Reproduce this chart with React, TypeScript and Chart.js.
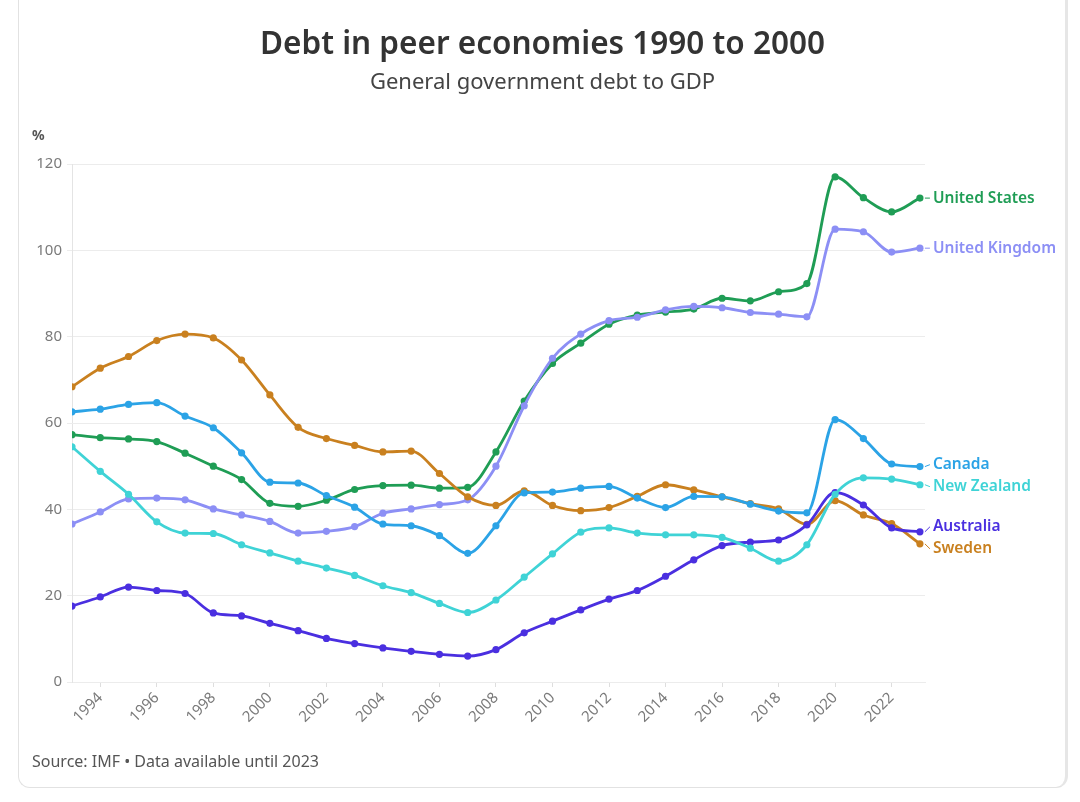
import React, { useEffect, useRef } from "react";
import { Chart, registerables } from "chart.js";

Chart.register(...registerables);

const years = [
  1993, 1994, 1995, 1996, 1997, 1998, 1999, 2000, 2001, 2002, 2003,
  2004, 2005, 2006, 2007, 2008, 2009, 2010, 2011, 2012, 2013, 2014,
  2015, 2016, 2017, 2018, 2019, 2020, 2021, 2022, 2023,
];

const xTickYears = [
  1994, 1996, 1998, 2000, 2002, 2004, 2006, 2008, 2010, 2012, 2014,
  2016, 2018, 2020, 2022,
];

const unitedStates = [
  57.3, 56.6, 56.3, 55.7, 53.0, 50.0, 46.9, 41.4, 40.7, 42.1, 44.6,
  45.5, 45.6, 44.9, 45.1, 53.3, 65.1, 73.8, 78.5, 82.9, 85.0, 85.7,
  86.4, 88.9, 88.3, 90.4, 92.3, 117.0, 112.2, 108.9, 112.1,
];

const unitedKingdom = [
  36.6, 39.4, 42.4, 42.6, 42.2, 40.1, 38.7, 37.2, 34.5, 34.9, 36.0,
  39.1, 40.1, 41.1, 42.2, 50.0, 64.0, 75.0, 80.6, 83.7, 84.5, 86.2,
  87.0, 86.7, 85.6, 85.2, 84.6, 104.9, 104.3, 99.6, 100.5,
];

const canada = [
  62.6, 63.2, 64.3, 64.7, 61.6, 58.9, 53.1, 46.3, 46.1, 43.2, 40.5,
  36.6, 36.2, 33.9, 29.8, 36.2, 43.8, 44.0, 44.9, 45.3, 42.6, 40.4,
  43.0, 42.9, 41.2, 39.6, 39.2, 60.8, 56.4, 50.5, 49.9,
];

const newZealand = [
  54.5, 48.8, 43.5, 37.1, 34.5, 34.4, 31.8, 29.9, 28.0, 26.4, 24.7,
  22.3, 20.7, 18.2, 16.1, 19.0, 24.3, 29.7, 34.7, 35.7, 34.5, 34.1,
  34.1, 33.5, 31.0, 28.0, 31.8, 43.5, 47.3, 47.0, 45.7,
];

const australia = [
  17.6, 19.7, 22.0, 21.2, 20.5, 16.0, 15.3, 13.6, 11.9, 10.1, 8.9,
  7.9, 7.1, 6.4, 6.0, 7.5, 11.4, 14.1, 16.7, 19.2, 21.2, 24.5,
  28.3, 31.6, 32.4, 32.9, 36.4, 43.9, 41.0, 35.7, 34.8,
];

const sweden = [
  68.4, 72.7, 75.4, 79.1, 80.6, 79.7, 74.6, 66.5, 59.0, 56.4, 54.8,
  53.3, 53.5, 48.3, 42.9, 40.9, 44.3, 40.9, 39.7, 40.4, 43.0, 45.7,
  44.5, 42.9, 41.3, 40.1, 36.5, 42.0, 38.7, 36.7, 32.0,
];

const seriesNames = [
  "Canada",
  "New Zealand",
  "Australia",
  "Sweden",
  "United Kingdom",
  "United States",
];
const seriesValues = [canada, newZealand, australia, sweden, unitedKingdom, unitedStates];
const seriesColors = ["#2ba3e6", "#3fd3d6", "#4a2fe0", "#c9801f", "#8c8ff5", "#1f9d55"];

const FONT = '"Noto Sans", sans-serif';

const endLabels = {
  id: "endLabels",
  afterDatasetsDraw(chart: any) {
    const ctx = chart.ctx;
    const items = chart.data.datasets.map((ds: any, i: number) => {
      const meta = chart.getDatasetMeta(i);
      const pt = meta.data[meta.data.length - 1];
      return { x: pt.x, y: pt.y, ly: pt.y, text: ds.label, color: ds.borderColor };
    });
    const sorted = [...items].sort((a: any, b: any) => a.y - b.y);
    const gap = 22;
    for (let iter = 0; iter < 60; iter++) {
      let moved = false;
      for (let i = 0; i < sorted.length - 1; i++) {
        const a = sorted[i];
        const b = sorted[i + 1];
        const d = b.ly - a.ly;
        if (d < gap - 0.01) {
          const s = (gap - d) / 2;
          a.ly -= s;
          b.ly += s;
          moved = true;
        }
      }
      if (!moved) break;
    }
    ctx.save();
    ctx.font = `600 15.5px ${FONT}`;
    ctx.textBaseline = "middle";
    ctx.textAlign = "left";
    for (const it of items) {
      ctx.strokeStyle = it.color;
      ctx.lineWidth = 1;
      ctx.beginPath();
      ctx.moveTo(it.x + 5, it.y);
      ctx.lineTo(it.x + 10, it.ly);
      ctx.stroke();
      ctx.fillStyle = it.color;
      ctx.fillText(it.text, it.x + 13, it.ly);
    }
    ctx.restore();
  },
};

export default function App() {
  const canvasRef = useRef<HTMLCanvasElement | null>(null);

  useEffect(() => {
    const canvas = canvasRef.current;
    if (!canvas) return;
    const datasets = seriesNames.map((name, i) => ({
      label: name,
      data: years.map((yr, j) => ({ x: yr, y: seriesValues[i][j] })),
      borderColor: seriesColors[i],
      backgroundColor: seriesColors[i],
      pointBackgroundColor: seriesColors[i],
      pointBorderColor: seriesColors[i],
      pointRadius: 3.6,
      pointBorderWidth: 0,
      borderWidth: 2.8,
      cubicInterpolationMode: "monotone" as const,
      fill: false,
    }));

    const chart = new Chart(canvas, {
      type: "line",
      data: { datasets },
      plugins: [endLabels],
      options: {
        responsive: false,
        animation: false,
        devicePixelRatio: 1,
        layout: { padding: { left: 0, right: 155, top: 164, bottom: 60 } },
        plugins: {
          legend: { display: false },
          tooltip: { enabled: false },
          title: { display: false },
        },
        scales: {
          x: {
            type: "linear",
            min: 1993,
            max: 2023.18,
            afterBuildTicks: (scale: any) => {
              scale.ticks = xTickYears.map((v) => ({ value: v }));
            },
            afterFit: (scale: any) => {
              scale.height = 60;
            },
            ticks: {
              autoSkip: false,
              maxRotation: 45,
              minRotation: 45,
              padding: 2,
              color: "#7a7a7a",
              font: { family: FONT, size: 15 },
              callback: (v: any) => String(v),
            },
            grid: {
              drawOnChartArea: false,
              drawTicks: true,
              tickLength: 5,
              tickColor: "#dedede",
            },
            border: { display: true, color: "#ececec" },
          },
          y: {
            min: 0,
            max: 120,
            afterFit: (scale: any) => {
              scale.width = 72;
            },
            ticks: {
              stepSize: 20,
              padding: 5,
              color: "#7a7a7a",
              font: { family: FONT, size: 15 },
            },
            grid: {
              color: "#ececec",
              lineWidth: 1,
              tickLength: 5,
              tickColor: "#ececec",
            },
            border: { display: true, color: "#e4e4e4" },
          },
        },
      },
    });
    return () => chart.destroy();
  }, []);

  return (
    <div
      style={{
        position: "fixed",
        left: 0,
        top: 0,
        width: 1080,
        height: 802,
        background: "#ffffff",
        overflow: "hidden",
        fontFamily: FONT,
      }}
    >
      <div
        style={{
          position: "absolute",
          left: 18,
          top: -20,
          width: 1050,
          height: 808,
          border: "1px solid #e2e2e2",
          borderRight: "3px solid #e6e6e6",
          borderRadius: 12,
          boxSizing: "border-box",
        }}
      />
      <canvas
        ref={canvasRef}
        width={1080}
        height={802}
        style={{ position: "absolute", left: 0, top: 0, width: 1080, height: 802 }}
      />
      <div
        style={{
          position: "absolute",
          left: 18,
          width: 1049,
          top: 26,
          textAlign: "center",
          fontSize: 31.5,
          lineHeight: "31.5px",
          fontWeight: 600,
          color: "#333333",
        }}
      >
        Debt in peer economies 1990 to 2000
      </div>
      <div
        style={{
          position: "absolute",
          left: 18,
          width: 1049,
          top: 69,
          textAlign: "center",
          fontSize: 22,
          lineHeight: "22px",
          color: "#444444",
        }}
      >
        General government debt to GDP
      </div>
      <div
        style={{
          position: "absolute",
          left: 32,
          top: 128,
          fontSize: 14,
          lineHeight: "14px",
          fontWeight: 700,
          color: "#555555",
        }}
      >
        %
      </div>
      <div
        style={{
          position: "absolute",
          left: 32,
          top: 753,
          fontSize: 16,
          lineHeight: "16px",
          color: "#555555",
        }}
      >
        Source: IMF • Data available until 2023
      </div>
    </div>
  );
}
